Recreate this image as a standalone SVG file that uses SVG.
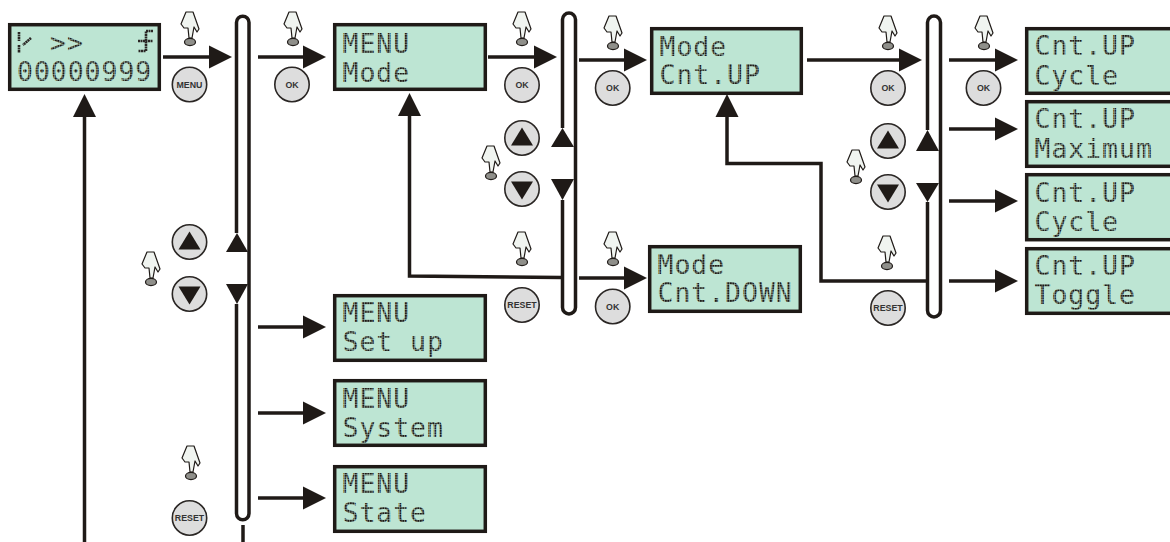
<svg xmlns="http://www.w3.org/2000/svg" width="1170" height="542" viewBox="0 0 1170 542">
<style>
.lcd{fill:#bde5d3;stroke:#1f1a17;stroke-width:3.5}
.t{font-family:"DejaVu Sans Mono",monospace;font-size:26.5px;letter-spacing:.95px;fill:url(#dots)}
.c{fill:none;stroke:#1f1a17;stroke-width:3.5}
.a{marker-end:url(#ah)}
.bar{fill:#fff;stroke:#1f1a17;stroke-width:3.5}
.tri{fill:#1f1a17}
.btn{fill:#dddddd;stroke:#2a2624;stroke-width:1.6}
.bt{font-family:"Liberation Sans",Arial,sans-serif;font-weight:700;font-size:8.8px;fill:#333;text-anchor:middle}
.ic{fill:none;stroke:#2a2624;stroke-width:2.6;stroke-dasharray:2 .5}
</style>
<defs>
<pattern id="dots" width="2.5" height="2.5" patternUnits="userSpaceOnUse"><rect width="2.1" height="2.1" fill="#1f1a17"/></pattern>
<marker id="ah" markerUnits="userSpaceOnUse" markerWidth="23" markerHeight="24" viewBox="0 0 23 24" refX="3" refY="12" orient="auto"><path d="M0 .5L23 12L0 23.500z" fill="#1f1a17"/></marker>
<g id="hand">
<path d="M-9-18L-4-30L3-30L9-13L7-10L4-15L2-4L-1-4L-2-14L-6-14z" fill="#f0f4f0" stroke="#1f1a17" stroke-width="1.2" stroke-linejoin="round"/>
<ellipse cx="0" cy="0" rx="5.500" ry="3.600" fill="#8f8f8a" stroke="#1f1a17" stroke-width="1.2"/>
</g>
<g id="bg"><circle r="17.200" class="btn"/></g>
<g id="up"><circle r="17.200" class="btn"/><path d="M0-10.500L11 7.500H-11z" class="tri"/></g>
<g id="down"><circle r="17.200" class="btn"/><path d="M0 10.500L11-7.500H-11z" class="tri"/></g>
</defs>

<g id="connectors">
<path class="bar" d="M236.500 233V22.500A6.250 6.250 0 0 1 249 22.500V513.500A6.250 6.250 0 0 1 236.500 513.500V304"/>
<path class="tri" d="M237 233L248 252H226z"/><path class="tri" d="M237 304L248 284H226z"/>
<path class="bar" d="M562.500 128V19.500A6.500 6.500 0 0 1 575.500 19.500V307.500A6.500 6.500 0 0 1 562.500 307.500V200"/>
<path class="tri" d="M562.500 128L574 147H551z"/><path class="tri" d="M562.500 200L574 179H551z"/>
<path class="bar" d="M927.500 130V22.500A6.500 6.500 0 0 1 940.500 22.500V310.500A6.500 6.500 0 0 1 927.500 310.500V202"/>
<path class="tri" d="M927.500 130L939 151H916z"/><path class="tri" d="M927.500 202L939 183H916z"/>

<line class="c a" x1="163" y1="57" x2="212" y2="57"/>
<line class="c a" x1="258" y1="57" x2="306" y2="57"/>
<line class="c a" x1="488" y1="57" x2="537" y2="57"/>
<line class="c a" x1="579" y1="60" x2="627" y2="60"/>
<line class="c a" x1="807" y1="60" x2="902" y2="60"/>
<line class="c a" x1="949" y1="60" x2="998" y2="60"/>
<line class="c a" x1="949" y1="129" x2="998" y2="129"/>
<line class="c a" x1="949" y1="201" x2="998" y2="201"/>
<line class="c a" x1="949" y1="281" x2="998" y2="281"/>
<line class="c a" x1="579" y1="278" x2="627" y2="278"/>
<line class="c a" x1="258" y1="327" x2="306" y2="327"/>
<line class="c a" x1="258" y1="413" x2="306" y2="413"/>
<line class="c a" x1="258" y1="498" x2="306" y2="498"/>
<path class="c a" d="M84.500 542V114"/>
<line class="c" x1="243" y1="525" x2="243" y2="542"/>
<path class="c a" d="M561 277.500L409.500 276V113"/>
<path class="c a" d="M926 281H821V163.500H727V114"/>
</g>

<g id="lcd-main"><rect class="lcd" x="9.700" y="24.700" width="149.600" height="64.600"/>
<path class="ic" d="M19 32V41M31 38L23 45M19 45V53"/>
<path class="ic" d="M153 31H146V51H138M138 41H153"/>
<text class="t" x="50" y="52">&gt;&gt;</text>
<text class="t" x="17" y="81">00000999</text></g>
<g id="lcd-menu-mode"><rect class="lcd" x="334.700" y="24.700" width="150.600" height="64.600"/><text class="t" x="342.500" y="53">MENU</text><text class="t" x="342.500" y="82">Mode</text></g>
<g id="lcd-mode-up"><rect class="lcd" x="651.700" y="28.700" width="149.600" height="64.600"/><text class="t" x="659.500" y="56">Mode</text><text class="t" x="659.500" y="84">Cnt.UP</text></g>
<g id="lcd-mode-down"><rect class="lcd" x="649.700" y="246.700" width="150.600" height="64.600"/><text class="t" x="657.500" y="274">Mode</text><text class="t" x="657.500" y="302">Cnt.DOWN</text></g>
<g id="lcd-up-cycle"><rect class="lcd" x="1026.700" y="28.700" width="160" height="64.600"/><text class="t" x="1034.500" y="55">Cnt.UP</text><text class="t" x="1034.500" y="85">Cycle</text></g>
<g id="lcd-up-max"><rect class="lcd" x="1026.700" y="101.700" width="160" height="64.600"/><text class="t" x="1034.500" y="128">Cnt.UP</text><text class="t" x="1034.500" y="158">Maximum</text></g>
<g id="lcd-up-cycle2"><rect class="lcd" x="1026.700" y="174.700" width="160" height="65"/><text class="t" x="1034.500" y="202">Cnt.UP</text><text class="t" x="1034.500" y="231">Cycle</text></g>
<g id="lcd-up-toggle"><rect class="lcd" x="1026.700" y="248.700" width="160" height="64.600"/><text class="t" x="1034.500" y="275">Cnt.UP</text><text class="t" x="1034.500" y="304">Toggle</text></g>
<g id="lcd-setup"><rect class="lcd" x="334.700" y="295.700" width="150.600" height="64.600"/><text class="t" x="342.500" y="322">MENU</text><text class="t" x="342.500" y="351">Set up</text></g>
<g id="lcd-system"><rect class="lcd" x="334.700" y="380.700" width="150.600" height="64.600"/><text class="t" x="342.500" y="408">MENU</text><text class="t" x="342.500" y="437">System</text></g>
<g id="lcd-state"><rect class="lcd" x="334.700" y="466.700" width="150.600" height="64.600"/><text class="t" x="342.500" y="493">MENU</text><text class="t" x="342.500" y="522">State</text></g>

<g id="btn-menu" transform="translate(189.500 84.500)"><use href="#bg"/><text class="bt" y="3.200">MENU</text></g>
<g id="btn-ok1" transform="translate(292 84.500)"><use href="#bg"/><text class="bt" y="3.200">OK</text></g>
<g id="btn-ok2" transform="translate(522 85)"><use href="#bg"/><text class="bt" y="3.200">OK</text></g>
<g id="btn-ok3" transform="translate(612.700 88)"><use href="#bg"/><text class="bt" y="3.200">OK</text></g>
<g id="btn-ok4" transform="translate(888 88)"><use href="#bg"/><text class="bt" y="3.200">OK</text></g>
<g id="btn-ok5" transform="translate(983.500 88)"><use href="#bg"/><text class="bt" y="3.200">OK</text></g>
<g id="btn-ok6" transform="translate(612.700 306.500)"><use href="#bg"/><text class="bt" y="3.200">OK</text></g>
<g id="btn-reset1" transform="translate(189.500 518)"><use href="#bg"/><text class="bt" y="3.200">RESET</text></g>
<g id="btn-reset2" transform="translate(522 305)"><use href="#bg"/><text class="bt" y="3.200">RESET</text></g>
<g id="btn-reset3" transform="translate(888 308)"><use href="#bg"/><text class="bt" y="3.200">RESET</text></g>
<g id="btn-up1" transform="translate(189.500 242)"><use href="#up"/></g>
<g id="btn-down1" transform="translate(189.500 294)"><use href="#down"/></g>
<g id="btn-up2" transform="translate(522 138)"><use href="#up"/></g>
<g id="btn-down2" transform="translate(522 189)"><use href="#down"/></g>
<g id="btn-up3" transform="translate(888 141)"><use href="#up"/></g>
<g id="btn-down3" transform="translate(888 192)"><use href="#down"/></g>

<g id="hands">
<use href="#hand" x="190" y="42"/><use href="#hand" x="293" y="42"/><use href="#hand" x="522" y="42"/>
<use href="#hand" x="613" y="46"/><use href="#hand" x="491" y="176"/><use href="#hand" x="522" y="262"/>
<use href="#hand" x="613" y="262"/><use href="#hand" x="888" y="46"/><use href="#hand" x="984" y="46"/>
<use href="#hand" x="856" y="180"/><use href="#hand" x="887" y="266"/><use href="#hand" x="151" y="282"/>
<use href="#hand" x="191" y="476"/>
</g>
</svg>
